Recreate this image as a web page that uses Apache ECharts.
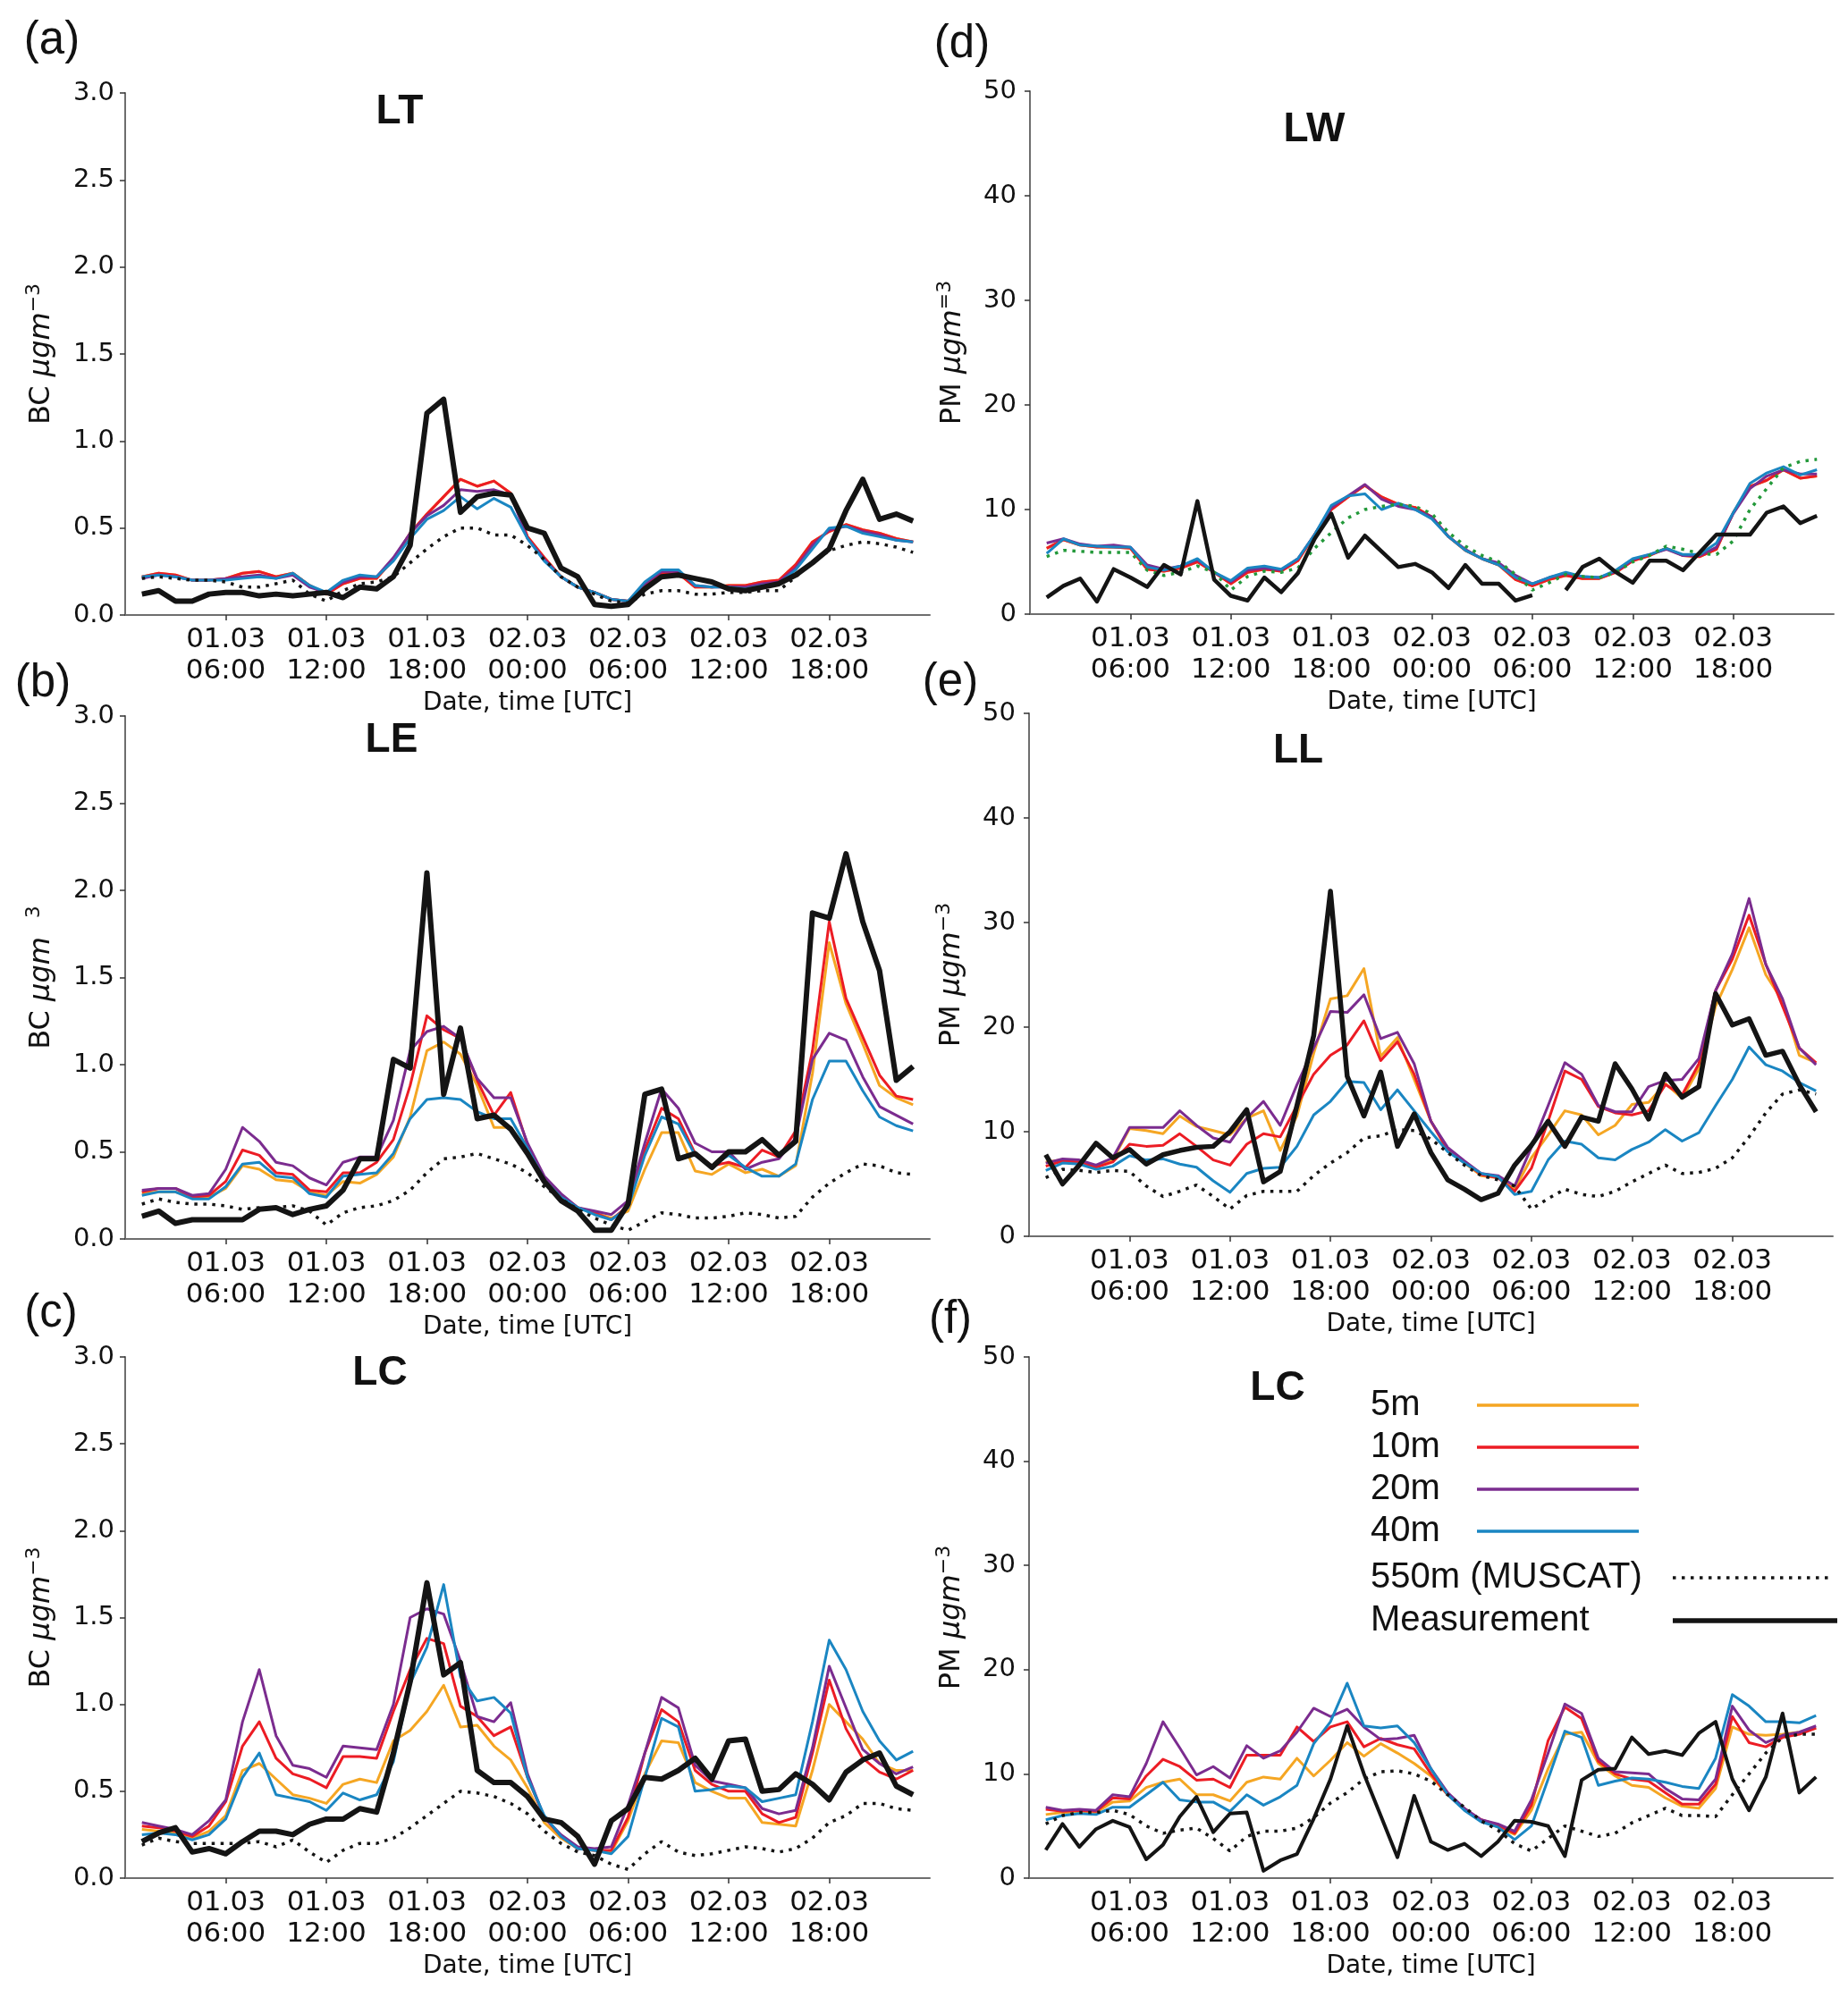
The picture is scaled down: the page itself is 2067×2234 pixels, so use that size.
<!DOCTYPE html>
<html>
<head>
<meta charset="utf-8">
<script src="https://cdn.jsdelivr.net/npm/echarts@6/dist/echarts.min.js"></script>
<style>
  html, body { margin: 0; padding: 0; background: #ffffff; }
  #chart { width: 2067px; height: 2234px; }
</style>
</head>
<body>
<div id="chart"></div>
<script>
// ---------------- DATA ----------------
const hours = [1,2,3,4,5,6,7,8,9,10,11,12,13,14,15,16,17,18,19,20,21,22,23,24,25,26,27,28,29,30,31,32,33,34,35,36,37,38,39,40,41,42,43,44,45,46,47];
const tickHours = [6, 12, 18, 24, 30, 36, 42];
const tickLabels = ['01.03\n06:00','01.03\n12:00','01.03\n18:00','02.03\n00:00','02.03\n06:00','02.03\n12:00','02.03\n18:00'];
const seriesNames = ['5m', '10m', '20m', '40m', '550m (MUSCAT)', 'Measurement'];
const panelLetters = ['(a)', '(b)', '(c)', '(d)', '(e)', '(f)'];
const panelTitles = ['LT', 'LE', 'LC', 'LW', 'LL', 'LC'];

// (a) LT, BC
const a_orange = [0.22,0.24,0.23,0.20,0.20,0.21,0.24,0.25,0.22,0.24,0.17,0.12,0.18,0.21,0.21,0.32,0.47,0.58,0.68,0.78,0.74,0.77,0.70,0.45,0.33,0.22,0.16,0.13,0.09,0.08,0.17,0.24,0.24,0.16,0.16,0.17,0.17,0.19,0.20,0.29,0.42,0.48,0.52,0.49,0.47,0.44,0.42];
const a_red    = [0.22,0.24,0.23,0.20,0.20,0.21,0.24,0.25,0.22,0.24,0.17,0.12,0.18,0.21,0.21,0.32,0.47,0.58,0.68,0.78,0.74,0.77,0.70,0.45,0.33,0.22,0.16,0.13,0.09,0.08,0.17,0.24,0.24,0.16,0.16,0.17,0.17,0.19,0.20,0.29,0.42,0.48,0.52,0.49,0.47,0.44,0.42];
const a_purple = [0.21,0.23,0.22,0.20,0.20,0.21,0.22,0.23,0.21,0.23,0.16,0.13,0.19,0.22,0.22,0.33,0.47,0.57,0.63,0.72,0.71,0.72,0.69,0.44,0.32,0.22,0.16,0.13,0.09,0.08,0.18,0.25,0.25,0.17,0.16,0.16,0.16,0.18,0.19,0.27,0.40,0.49,0.51,0.48,0.46,0.43,0.42];
const a_blue   = [0.22,0.23,0.22,0.20,0.20,0.20,0.21,0.22,0.21,0.24,0.17,0.13,0.20,0.23,0.22,0.31,0.44,0.55,0.60,0.68,0.61,0.67,0.62,0.44,0.31,0.22,0.16,0.13,0.09,0.08,0.19,0.26,0.26,0.17,0.16,0.16,0.15,0.17,0.18,0.26,0.38,0.50,0.51,0.47,0.45,0.43,0.42];
const a_muscat = [0.21,0.22,0.21,0.20,0.20,0.19,0.16,0.16,0.18,0.20,0.12,0.08,0.14,0.18,0.19,0.22,0.30,0.38,0.45,0.50,0.50,0.46,0.46,0.40,0.32,0.22,0.16,0.12,0.08,0.07,0.12,0.14,0.14,0.12,0.12,0.13,0.13,0.14,0.14,0.22,0.30,0.37,0.40,0.42,0.41,0.39,0.36];
const a_meas   = [0.12,0.14,0.08,0.08,0.12,0.13,0.13,0.11,0.12,0.11,0.12,0.13,0.10,0.16,0.15,0.22,0.40,1.16,1.24,0.59,0.68,0.70,0.69,0.50,0.47,0.27,0.22,0.06,0.05,0.06,0.15,0.22,0.23,0.21,0.19,0.15,0.14,0.16,0.18,0.23,0.30,0.38,0.60,0.78,0.55,0.58,0.54];

// (b) LE, BC
const b_orange = [0.26,0.27,0.27,0.24,0.24,0.29,0.42,0.40,0.34,0.33,0.27,0.25,0.33,0.32,0.37,0.47,0.70,1.08,1.13,1.06,0.88,0.64,0.64,0.50,0.35,0.25,0.18,0.15,0.12,0.16,0.40,0.61,0.61,0.39,0.37,0.43,0.38,0.40,0.36,0.42,0.95,1.70,1.35,1.12,0.88,0.81,0.77];
const b_red    = [0.27,0.29,0.29,0.24,0.25,0.33,0.51,0.48,0.38,0.37,0.28,0.27,0.38,0.38,0.44,0.57,0.88,1.28,1.20,1.15,0.91,0.71,0.84,0.54,0.35,0.25,0.18,0.15,0.11,0.19,0.51,0.75,0.69,0.49,0.42,0.44,0.41,0.51,0.47,0.62,1.08,1.82,1.38,1.16,0.94,0.82,0.80];
const b_purple = [0.28,0.29,0.29,0.25,0.26,0.40,0.64,0.56,0.44,0.42,0.35,0.31,0.44,0.47,0.47,0.68,1.08,1.19,1.22,1.15,0.92,0.81,0.81,0.55,0.36,0.26,0.18,0.16,0.14,0.22,0.55,0.86,0.75,0.55,0.50,0.50,0.40,0.44,0.46,0.58,1.03,1.18,1.14,0.93,0.76,0.71,0.66];
const b_blue   = [0.25,0.27,0.27,0.23,0.23,0.30,0.43,0.44,0.36,0.35,0.26,0.24,0.36,0.37,0.38,0.49,0.69,0.80,0.81,0.80,0.73,0.69,0.69,0.52,0.34,0.24,0.18,0.14,0.11,0.18,0.48,0.70,0.66,0.48,0.42,0.48,0.41,0.36,0.36,0.43,0.80,1.02,1.02,0.85,0.70,0.65,0.62];
const b_muscat = [0.20,0.23,0.21,0.20,0.20,0.19,0.17,0.18,0.18,0.19,0.16,0.08,0.15,0.18,0.19,0.22,0.28,0.38,0.46,0.47,0.49,0.46,0.43,0.38,0.30,0.23,0.17,0.12,0.08,0.05,0.10,0.15,0.14,0.12,0.12,0.13,0.15,0.14,0.12,0.13,0.24,0.32,0.38,0.43,0.42,0.38,0.37];
const b_meas   = [0.13,0.16,0.09,0.11,0.11,0.11,0.11,0.17,0.18,0.14,0.17,0.19,0.28,0.46,0.46,1.03,0.98,2.10,0.83,1.21,0.69,0.71,0.63,0.49,0.33,0.22,0.16,0.05,0.05,0.20,0.83,0.86,0.46,0.49,0.41,0.50,0.50,0.57,0.48,0.56,1.87,1.84,2.21,1.82,1.54,0.91,0.99];

// (c) LC, BC
const c_orange = [0.28,0.27,0.26,0.23,0.27,0.36,0.62,0.66,0.57,0.48,0.46,0.43,0.54,0.57,0.55,0.79,0.85,0.96,1.11,0.87,0.88,0.76,0.68,0.52,0.32,0.23,0.17,0.16,0.15,0.33,0.60,0.79,0.78,0.55,0.50,0.46,0.46,0.32,0.31,0.30,0.62,1.00,0.90,0.80,0.66,0.62,0.62];
const c_red    = [0.30,0.29,0.27,0.24,0.30,0.44,0.76,0.90,0.69,0.60,0.57,0.52,0.70,0.70,0.69,0.96,1.20,1.38,1.35,0.99,0.93,0.82,0.87,0.58,0.35,0.24,0.17,0.16,0.16,0.35,0.72,0.97,0.90,0.62,0.54,0.50,0.50,0.37,0.32,0.35,0.72,1.14,0.86,0.69,0.61,0.57,0.62];
const c_purple = [0.32,0.30,0.28,0.25,0.33,0.45,0.90,1.20,0.82,0.65,0.63,0.58,0.76,0.75,0.74,1.00,1.50,1.55,1.52,1.25,0.93,0.90,1.01,0.60,0.35,0.25,0.18,0.17,0.18,0.42,0.72,1.04,0.98,0.65,0.56,0.54,0.52,0.40,0.37,0.39,0.75,1.22,0.98,0.74,0.66,0.60,0.64];
const c_blue   = [0.25,0.26,0.25,0.22,0.25,0.34,0.58,0.72,0.48,0.46,0.44,0.39,0.49,0.45,0.48,0.67,1.12,1.33,1.69,1.16,1.02,1.04,0.95,0.58,0.36,0.24,0.17,0.16,0.14,0.24,0.58,0.92,0.87,0.50,0.51,0.53,0.52,0.44,0.46,0.48,0.90,1.37,1.20,0.96,0.79,0.68,0.73];
const c_muscat = [0.19,0.23,0.21,0.20,0.20,0.20,0.20,0.21,0.18,0.22,0.15,0.09,0.16,0.20,0.20,0.23,0.29,0.36,0.43,0.50,0.49,0.47,0.43,0.37,0.27,0.20,0.15,0.13,0.08,0.05,0.14,0.21,0.15,0.13,0.14,0.16,0.18,0.17,0.15,0.17,0.23,0.32,0.36,0.43,0.43,0.40,0.39];
const c_meas   = [0.21,0.26,0.29,0.15,0.17,0.14,0.21,0.27,0.27,0.25,0.31,0.34,0.34,0.40,0.38,0.72,1.13,1.70,1.17,1.24,0.62,0.55,0.55,0.47,0.34,0.32,0.24,0.08,0.33,0.40,0.58,0.57,0.62,0.69,0.57,0.79,0.80,0.50,0.51,0.60,0.54,0.45,0.61,0.68,0.72,0.53,0.48];

// (d) LW, PM
const d_orange = [6.3,7.1,6.6,6.4,6.4,6.3,4.3,4.1,4.4,5.0,4.0,2.9,4.0,4.3,4.1,5.1,7.6,10.0,11.2,12.3,11.2,10.5,10.2,9.3,7.4,6.1,5.3,4.7,3.3,2.7,3.3,3.7,3.4,3.4,4.0,5.1,5.6,6.3,5.6,5.5,6.2,9.7,12.2,12.8,13.8,13.0,13.2];
const d_red    = [6.3,7.1,6.6,6.4,6.4,6.3,4.3,4.1,4.4,5.0,4.0,2.9,4.0,4.3,4.1,5.1,7.6,10.0,11.2,12.3,11.2,10.5,10.2,9.3,7.4,6.1,5.3,4.7,3.3,2.7,3.3,3.7,3.4,3.4,4.0,5.1,5.6,6.3,5.6,5.5,6.2,9.7,12.2,12.8,13.8,13.0,13.2];
const d_purple = [6.8,7.2,6.7,6.5,6.6,6.4,4.7,4.3,4.6,5.2,4.0,3.1,4.2,4.4,4.2,5.3,7.6,10.2,11.3,12.4,11.0,10.3,10.0,9.3,7.4,6.2,5.3,4.9,3.7,2.9,3.5,3.9,3.6,3.5,4.1,5.2,5.7,6.2,5.6,5.6,6.4,9.6,12.0,13.2,13.8,13.4,13.4];
const d_blue   = [5.8,7.2,6.6,6.5,6.4,6.4,4.5,4.2,4.6,5.3,4.0,3.2,4.4,4.6,4.3,5.3,7.6,10.4,11.3,11.5,10.0,10.6,10.0,9.1,7.4,6.1,5.3,4.7,3.5,2.9,3.5,4.0,3.6,3.5,4.2,5.3,5.7,6.3,5.7,5.7,6.8,9.7,12.5,13.5,14.1,13.3,13.8];
const d_muscat = [5.5,6.1,6.0,5.9,5.9,5.9,4.2,3.7,4.0,4.6,4.0,2.3,3.6,4.1,4.0,4.4,6.3,7.8,9.2,10.0,10.3,10.5,10.3,9.6,7.8,6.5,5.6,5.0,3.8,2.3,3.0,3.8,3.6,3.5,4.0,5.0,5.6,6.5,6.2,5.8,5.7,7.0,10.0,12.0,14.0,14.6,14.8];
const d_meas   = [1.6,2.7,3.4,1.2,4.3,3.5,2.6,4.7,3.8,10.8,3.3,1.75,1.3,3.5,2.1,3.9,7.2,9.6,5.4,7.5,6.0,4.5,4.8,4.0,2.5,4.7,2.9,2.9,1.3,1.8,null,2.3,4.5,5.3,4.0,3.0,5.1,5.1,4.2,5.9,7.6,7.6,7.6,9.7,10.3,8.7,9.4];

// (e) LL, PM
const e_orange = [7.1,7.3,7.1,6.6,7.3,10.3,10.1,9.8,11.5,10.5,10.1,9.7,11.3,12.0,8.2,11.5,17.5,22.7,23.0,25.6,17.2,19.0,15.0,11.0,8.3,7.0,5.8,5.6,4.5,7.5,9.7,12.0,11.6,9.7,10.6,12.6,12.8,14.6,13.2,16.0,22.0,25.5,29.5,25.0,22.5,17.3,16.6];
const e_red    = [6.7,7.2,7.1,6.6,7.1,8.8,8.6,8.7,9.8,8.6,7.3,6.8,8.8,9.8,9.5,12.5,15.5,17.3,18.3,20.6,16.8,18.6,15.5,11.0,8.2,7.1,5.9,5.6,4.3,6.5,11.0,15.8,15.0,12.4,11.8,11.6,12.0,14.5,13.5,16.5,23.5,26.5,30.7,26.0,22.0,18.0,16.6];
const e_purple = [7.0,7.4,7.3,6.8,7.5,10.4,10.4,10.4,12.0,10.6,9.4,9.0,11.3,12.9,10.6,14.5,18.0,21.5,21.4,23.1,18.9,19.5,16.5,11.0,8.5,7.2,6.0,5.8,4.8,8.5,12.5,16.6,15.5,12.5,11.9,11.9,14.3,14.9,15.0,17.0,23.5,27.0,32.3,26.0,22.7,18.0,16.4];
const e_blue   = [6.3,7.0,6.9,6.4,6.7,7.7,7.3,7.4,6.9,6.6,5.3,4.2,6.0,6.5,6.6,8.6,11.6,12.9,14.8,14.7,12.1,14.0,12.0,10.0,8.1,7.0,6.0,5.7,4.0,4.3,7.3,9.1,8.8,7.5,7.3,8.3,9.0,10.2,9.1,9.9,12.5,15.0,18.1,16.4,15.8,14.7,13.9];
const e_muscat = [5.6,6.4,6.3,6.1,6.3,6.2,4.8,3.8,4.3,4.9,3.8,2.6,3.9,4.3,4.3,4.3,5.8,7.0,8.0,9.4,9.6,10.2,10.1,9.3,8.0,6.8,5.8,5.4,4.8,2.6,3.6,4.5,4.0,3.8,4.3,5.2,6.0,6.8,6.0,6.1,6.5,7.5,9.5,11.8,13.6,14.0,13.6];
const e_meas   = [7.8,5.0,6.8,8.9,7.5,8.3,6.9,7.8,8.2,8.5,8.6,10.0,12.1,5.2,6.2,12.5,19.2,33.0,15.3,11.5,15.7,8.6,11.7,8.0,5.4,4.5,3.5,4.1,6.8,8.7,11.0,8.6,11.4,11.0,16.5,14.1,11.2,15.5,13.3,14.3,23.2,20.2,20.8,17.3,17.7,14.5,11.9];

// (f) LC, PM
const f_orange = [6.1,6.3,6.3,6.3,7.3,7.4,8.7,9.2,9.5,8.0,8.0,7.4,9.2,9.7,9.5,11.5,9.8,11.3,13.0,11.7,12.9,12.0,11.0,9.8,8.0,6.7,5.5,4.9,4.2,6.5,10.5,13.8,14.0,11.0,9.8,8.9,8.7,7.7,6.9,6.7,8.6,14.5,13.8,13.7,13.8,14.0,14.4];
const f_red    = [6.6,6.4,6.5,6.4,7.7,7.6,9.8,11.4,10.7,9.4,9.5,8.7,11.8,11.8,11.8,14.5,13.1,14.5,15.0,12.6,13.4,12.8,12.4,10.0,8.0,6.6,5.6,5.1,4.3,7.0,13.2,16.4,15.3,11.2,10.0,9.5,9.3,8.2,7.1,7.1,9.0,15.5,13.0,12.6,13.5,13.8,14.4];
const f_purple = [6.8,6.5,6.6,6.5,8.0,7.8,11.0,15.0,12.5,9.9,10.7,9.6,12.7,11.5,12.2,14.0,16.3,15.5,16.2,14.5,13.3,13.4,13.7,10.5,8.2,6.7,5.6,5.2,4.5,7.5,12.0,16.7,15.8,11.5,10.2,10.1,10.0,8.6,7.6,7.5,9.5,16.5,14.2,13.0,13.7,14.0,14.6];
const f_blue   = [5.6,6.0,6.2,6.1,6.8,6.8,8.0,9.2,7.5,7.3,7.3,6.4,8.0,7.0,7.8,8.9,12.9,15.0,18.7,14.6,14.4,14.6,13.0,10.5,8.0,6.5,5.4,4.9,3.7,5.0,9.5,14.1,13.5,8.9,9.3,9.6,9.5,9.2,8.8,8.6,11.5,17.6,16.5,15.0,15.0,14.9,15.6];
const f_muscat = [5.2,6.0,6.3,6.3,6.5,6.1,5.0,4.3,4.6,4.8,3.8,2.6,4.0,4.5,4.5,4.8,5.8,7.2,8.2,9.5,10.2,10.3,10.0,9.3,8.0,6.8,5.5,4.6,3.3,2.6,3.8,5.0,4.5,4.0,4.3,5.3,6.0,6.7,6.0,6.0,5.9,8.0,10.0,12.0,13.5,13.8,13.8];
const f_meas   = [2.7,5.2,3.0,4.7,5.5,4.9,1.8,3.2,5.9,7.8,4.4,6.2,6.3,0.7,1.7,2.3,5.7,9.5,14.6,10.0,6.0,2.0,7.9,3.5,2.7,3.3,2.1,3.5,5.5,5.4,5.0,2.1,9.4,10.4,10.5,13.5,11.9,12.2,11.8,13.9,15.0,9.5,6.5,9.7,15.8,8.2,9.7];

// ---------------- LAYOUT / STYLE ----------------
const panelData = [
  [a_orange, a_red, a_purple, a_blue, a_muscat, a_meas],
  [b_orange, b_red, b_purple, b_blue, b_muscat, b_meas],
  [c_orange, c_red, c_purple, c_blue, c_muscat, c_meas],
  [d_orange, d_red, d_purple, d_blue, d_muscat, d_meas],
  [e_orange, e_red, e_purple, e_blue, e_muscat, e_meas],
  [f_orange, f_red, f_purple, f_blue, f_muscat, f_meas]
];
const grids = [
  {left: 140, top: 104, width: 900, height: 584},
  {left: 140, top: 801, width: 900, height: 585},
  {left: 140, top: 1518, width: 900, height: 583},
  {left: 1152, top: 102, width: 899, height: 585},
  {left: 1151, top: 798, width: 899, height: 585},
  {left: 1151, top: 1518, width: 899, height: 583}
];
const isBC = [true, true, true, false, false, false];
const yNames = [
  '{n|BC }{i|μgm}{s|−3}',
  '{n|BC }{i|μgm}{s|   3}',
  '{n|BC }{i|μgm}{s|−3}',
  '{n|PM }{i|μgm}{s|=3}',
  '{n|PM }{i|μgm}{s|−3}',
  '{n|PM }{i|μgm}{s|−3}'
];
const colors = ['#F5A623', '#EC1C24', '#7B2C8F', '#1A86C2'];
const measWidth = [6, 6, 6, 4.5, 5.5, 4];
const muscatColor = ['#141414', '#141414', '#141414', '#23993A', '#141414', '#141414'];
const letterPos = [[58, 46], [48, 765], [57, 1470], [1076, 50], [1063, 764], [1063, 1477]];
const titlePos = [[447, 125], [438, 828], [425, 1536], [1470, 145], [1452, 840], [1429, 1553]];

const FONT = 'DejaVu Sans';
const axisColor = '#6e6e6e';
const textColor = '#111111';

function pairs(vals) { return hours.map((h, i) => [h, vals[i]]); }

function legendBlock(names, top, textWidth, iconWidth, lineWidth, gap) {
  return {
    data: names,
    orient: 'vertical', align: 'right', left: 1528, top: top,
    itemWidth: iconWidth, itemHeight: 14, itemGap: gap, selectedMode: false,
    itemStyle: { color: 'rgba(0,0,0,0)', borderWidth: 0, opacity: 0 },
    lineStyle: { width: lineWidth },
    formatter: name => '{t|' + name + '}',
    textStyle: { rich: { t: { width: textWidth, align: 'left', fontFamily: 'Liberation Sans', fontSize: 40, lineHeight: 40, color: textColor } } }
  };
}

const option = {
  animation: false,
  backgroundColor: '#ffffff',
  grid: grids.map(g => Object.assign({ outerBoundsMode: 'none', containLabel: false }, g)),
  xAxis: grids.map((g, i) => ({
    type: 'value', gridIndex: i, min: 0, max: 48, interval: 6,
    axisLine: { show: true, onZero: false, lineStyle: { color: axisColor, width: 2 } },
    axisTick: { show: true, customValues: tickHours, length: 6, inside: false, lineStyle: { color: '#333', width: 1.5 } },
    axisLabel: {
      customValues: tickHours,
      formatter: v => { const k = tickHours.indexOf(v); return k >= 0 ? tickLabels[k] : ''; },
      fontFamily: FONT, fontSize: 31, lineHeight: 35, color: textColor, margin: 10
    },
    splitLine: { show: false },
    name: 'Date, time [UTC]', nameLocation: 'middle', nameGap: 85, nameMoveOverlap: false,
    nameTextStyle: { fontFamily: FONT, fontSize: 28, color: textColor }
  })),
  yAxis: grids.map((g, i) => ({
    type: 'value', gridIndex: i,
    min: 0, max: isBC[i] ? 3 : 50, interval: isBC[i] ? 0.5 : 10,
    axisLine: { show: true, onZero: false, lineStyle: { color: axisColor, width: 2 } },
    axisTick: { show: true, length: 6, inside: false, lineStyle: { color: '#333', width: 1.5 } },
    axisLabel: {
      formatter: v => isBC[i] ? v.toFixed(1) : String(v),
      fontFamily: FONT, fontSize: 29, color: textColor, margin: isBC[i] ? 12 : 15
    },
    splitLine: { show: false },
    name: yNames[i], nameLocation: 'middle', nameRotate: 90, nameGap: isBC[i] ? 77 : 70,
    nameMoveOverlap: false,
    nameTextStyle: {
      rich: {
        n: { fontFamily: FONT, fontSize: 32, color: textColor, lineHeight: 36, verticalAlign: 'bottom' },
        i: { fontFamily: FONT, fontSize: 32, fontStyle: 'italic', color: textColor, lineHeight: 36, verticalAlign: 'bottom' },
        s: { fontFamily: FONT, fontSize: 22, color: textColor, lineHeight: 36, verticalAlign: 'top' }
      }
    }
  })),
  legend: [
    legendBlock(['5m', '10m', '20m', '40m'], 1547, 114, 181, 3.5, 7),
    legendBlock(['550m (MUSCAT)'], 1740, 333, 176, 3.5, 0),
    legendBlock(['Measurement'], 1788, 333, 184, 5.5, 0)
  ],
  graphic: [].concat(
    panelLetters.map((t, i) => ({
      type: 'text', x: letterPos[i][0], y: letterPos[i][1], silent: true,
      style: { text: t, font: '51px "Liberation Sans"', fill: textColor, textAlign: 'center', textVerticalAlign: 'middle' }
    })),
    panelTitles.map((t, i) => ({
      type: 'text', x: titlePos[i][0], y: titlePos[i][1], silent: true,
      style: { text: t, font: 'bold 46px "Liberation Sans"', fill: textColor, textAlign: 'center', textVerticalAlign: 'middle' }
    }))
  ),
  series: []
};

panelData.forEach((arrs, p) => {
  arrs.forEach((vals, k) => {
    let lineStyle;
    if (k < 4) {
      lineStyle = { color: colors[k], width: 3, join: 'round', cap: 'butt' };
    } else if (k === 4) {
      lineStyle = { color: muscatColor[p], width: 3.5, type: [3.5, 6.5], cap: 'butt' };
    } else {
      lineStyle = { color: '#141414', width: measWidth[p], join: 'round', cap: 'butt' };
    }
    option.series.push({
      type: 'line', name: seriesNames[k],
      xAxisIndex: p, yAxisIndex: p,
      data: pairs(vals),
      showSymbol: false, symbol: 'none',
      connectNulls: false,
      color: lineStyle.color,
      itemStyle: { color: lineStyle.color },
      lineStyle: lineStyle,
      emphasis: { disabled: true },
      z: 2 + k
    });
  });
});

const chart = echarts.init(document.getElementById('chart'), null, { renderer: 'canvas', width: 2067, height: 2234 });
chart.setOption(option);
</script>
</body>
</html>
